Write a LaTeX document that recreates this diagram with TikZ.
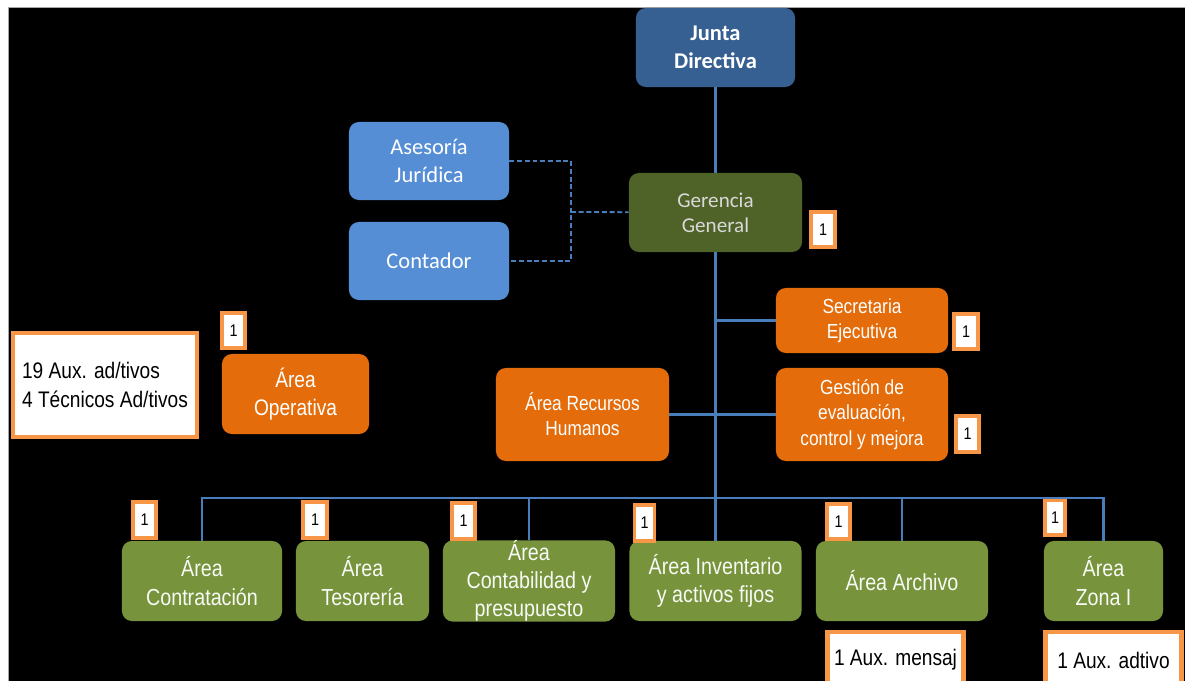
\documentclass[tikz,border=0pt]{standalone}
\usepackage{fontspec}
\setmainfont{Liberation Sans}
\newfontfamily\calibfont{Carlito}
\newfontfamily\narrowfont[FakeStretch=0.85]{Liberation Sans}

\definecolor{fondo}{HTML}{000000}
\definecolor{azuljunta}{HTML}{376092}
\definecolor{azulclaro}{HTML}{558ED5}
\definecolor{oliva}{HTML}{4F6228}
\definecolor{naranja}{HTML}{E46C0A}
\definecolor{verde}{HTML}{77933C}
\definecolor{lineaazul}{HTML}{4A7EBB}
\definecolor{borde}{HTML}{F79646}

\tikzset{
  caja/.style={rounded corners=7pt, inner sep=0pt, align=center, text=white},
  directiva/.style={caja, fill=azuljunta, font=\calibfont\bfseries\fontsize{16}{20}\selectfont},
  asesor/.style={caja, fill=azulclaro, minimum width=4cm, minimum height=1.95cm,
    font=\calibfont\fontsize{16}{20}\selectfont},
  gerente/.style={caja, fill=oliva, text=white!85!black, font=\calibfont\fontsize{15}{18}\selectfont},
  apoyo/.style={caja, fill=naranja, font=\narrowfont\fontsize{14.5}{18}\selectfont},
  area/.style={caja, fill=verde, minimum height=2cm, text=white!95!verde,
    font=\narrowfont\fontsize{16.5}{20}\selectfont},
  badge/.style={draw=borde, line width=2.8pt, fill=white, inner sep=0pt,
    minimum width=0.58cm, minimum height=0.88cm, font=\narrowfont\fontsize{12}{14}\selectfont},
  personal/.style={draw=borde, line width=3pt, fill=white, inner sep=0pt, text=black,
    font=\narrowfont\fontsize{16}{20}\selectfont},
  linea/.style={draw=lineaazul, line width=1.8pt},
  punteada/.style={draw=lineaazul, line width=1.3pt, dash pattern=on 3.5pt off 2pt}
}

\begin{document}
\begin{tikzpicture}[x=0.025cm, y=-0.025cm]
\useasboundingbox (0,0) rectangle (1185,681);
\clip (0,0) rectangle (1185,681);
\fill[white] (0,0) rectangle (1185,681);
\draw[fill=fondo, draw=gray!70] (8,7) rectangle (1190,690);

% direccion
\node[directiva, minimum width=3.975cm, minimum height=1.975cm] (junta) at (715.5,47.5) {Junta\\Directiva};
\node[gerente, minimum width=4.325cm, minimum height=1.975cm] (gerencia) at (715.5,212.5) {Gerencia\\General};
\node[asesor] (asesoria) at (429,161) {Asesoría\\Jurídica};
\node[asesor] (contador) at (429,261) {Contador};

% staff
\node[apoyo, minimum width=4.3cm, minimum height=1.625cm] (secretaria) at (862,320.5) {Secretaria\\Ejecutiva};
\node[apoyo, minimum width=4.3cm, minimum height=2.325cm] (gestion) at (862,414.5) {Gestión de\\evaluación,\\control y mejora};
\node[apoyo, minimum width=4.325cm, minimum height=2.325cm] (rrhh) at (582.5,414.5) {Área Recursos\\Humanos};
\node[apoyo, minimum width=3.675cm, minimum height=2cm, font=\narrowfont\fontsize{16}{20}\selectfont] (operativa) at (295.5,394) {Área\\Operativa};
\node[personal, minimum width=4.6cm, minimum height=2.6cm, align=left, font=\narrowfont\fontsize{16}{20.5}\selectfont] (auxoperativa) at (105,385) {19 Aux. ad/tivos\\4 Técnicos Ad/tivos};

% areas
\node[area, minimum width=4cm] (contratacion) at (202,581) {Área\\Contratación};
\node[area, minimum width=3.325cm] (tesoreria) at (362.5,581) {Área\\Tesorería};
\node[area, minimum width=4.3cm] (contabilidad) at (529,581) {Área\\Contabilidad y\\presupuesto};
\node[area, minimum width=4.3cm] (inventario) at (715.5,581) {Área Inventario\\y activos fijos};
\node[area, minimum width=4.3cm] (archivo) at (902,581) {Área Archivo};
\node[area, minimum width=2.975cm] (zona) at (1103.5,581) {Área\\Zona I};
\node[personal, minimum width=3.4cm, minimum height=1.4cm] (auxarchivo) at (895.5,660) {1 Aux. mensaj};
\node[personal, minimum width=3.4cm, minimum height=1.4cm] (auxzona) at (1113.5,660) {1 Aux. adtivo};

% cantidades
\node[badge] (n-gerencia) at (823,229.5) {1};
\node[badge] (n-operativa) at (233.5,330.5) {1};
\node[badge] (n-secretaria) at (966,331.5) {1};
\node[badge] (n-gestion) at (967.5,434) {1};
\node[badge] (n-contratacion) at (144.5,520) {1};
\node[badge] (n-tesoreria) at (315,520) {1};
\node[badge] (n-contabilidad) at (463.5,521) {1};
\node[badge, minimum width=0.5cm] (n-inventario) at (644.5,523) {1};
\node[badge] (n-archivo) at (838.5,521.5) {1};
\node[badge, minimum width=0.52cm] (n-zona) at (1055,517.5) {1};

% conexiones
\coordinate (union) at (571,212);
\coordinate (bus) at (715.5,498);
\draw[linea] (junta) -- (gerencia);
\draw[linea] (gerencia) -- (inventario);
\draw[linea] (gerencia.south |- secretaria.west) -- (secretaria.west);
\draw[linea] (rrhh) -- (gestion);
\draw[linea] (contratacion.north) |- (bus) -| (zona.north);
\draw[linea] (contabilidad.north) -- (contabilidad.north |- bus);
\draw[linea] (archivo.north) -- (archivo.north |- bus);
\draw[punteada] (asesoria) -| (union) |- (contador);
\draw[punteada] (union) -- (gerencia);
\end{tikzpicture}
\end{document}
